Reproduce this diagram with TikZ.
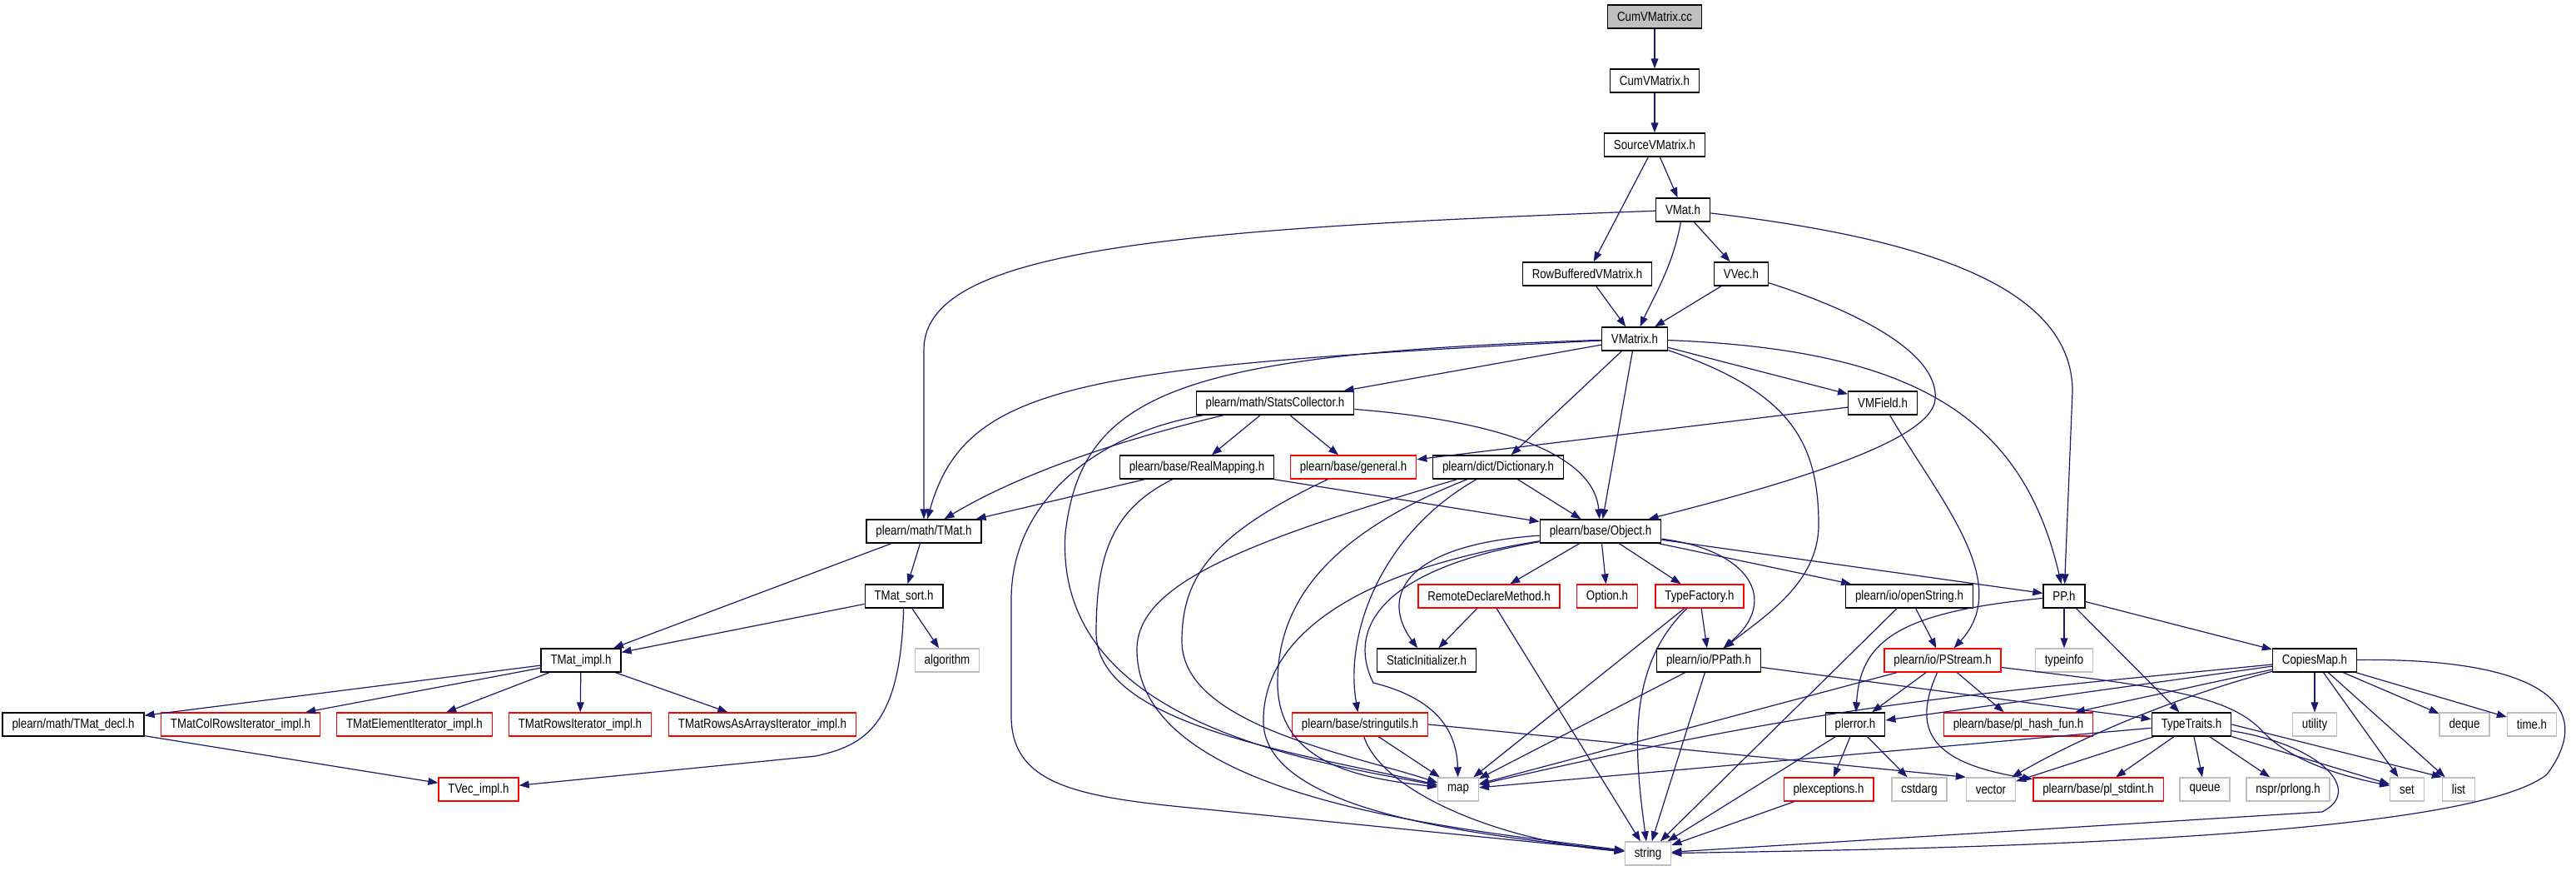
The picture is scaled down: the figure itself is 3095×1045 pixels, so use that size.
\documentclass[tikz,border=0pt]{standalone}
\usepackage{fontspec}
\setmainfont{Liberation Sans}[FakeStretch=0.84]
\usepackage{tikz}
\usetikzlibrary{arrows.meta}
\definecolor{edgeblue}{HTML}{191970}
\definecolor{grey75}{HTML}{BFBFBF}

\begin{document}
\begin{tikzpicture}[x=0.5pt,y=-0.5pt,
		>={Triangle[length=6pt,width=4.4pt]},
		hfile/.style={draw=black,line width=0.7pt,minimum height=14pt,inner xsep=5.7pt,inner ysep=0pt,font=\fontsize{7.9}{9}\selectfont},
		hmissing/.style={hfile,draw=red},
		hsys/.style={hfile,draw=grey75},
		hroot/.style={hfile,fill=grey75},
		dep/.style={->,draw=edgeblue,line width=0.6pt}]
			\useasboundingbox (0,0) rectangle (3095,1045);
			\node[hroot] (cc) at (1988,20) {CumVMatrix.cc};
			\node[hfile] (cumh) at (1988,97) {CumVMatrix.h};
			\node[hfile] (srcvm) at (1988,174) {SourceVMatrix.h};
			\node[hfile] (vmat) at (2022,252) {VMat.h};
			\node[hfile] (rowbuf) at (1907,329) {RowBufferedVMatrix.h};
			\node[hfile] (vvec) at (2092,329) {VVec.h};
			\node[hfile] (vmatrix) at (1964,407) {VMatrix.h};
			\node[hfile] (stats) at (1532,484) {plearn/math/StatsCollector.h};
			\node[hfile] (vmfield) at (2262,484) {VMField.h};
			\node[hfile] (realmap) at (1438,561) {plearn/base/RealMapping.h};
			\node[hmissing] (general) at (1626,561) {plearn/base/general.h};
			\node[hfile] (dict) at (1800,561) {plearn/dict/Dictionary.h};
			\node[hfile] (tmat) at (1110,638) {plearn/math/TMat.h};
			\node[hfile] (object) at (1923,638) {plearn/base/Object.h};
			\node[hfile] (tmatsort) at (1086,716) {TMat\_sort.h};
			\node[hmissing] (remote) at (1789,716) {RemoteDeclareMethod.h};
			\node[hmissing] (option) at (1931,716) {Option.h};
			\node[hmissing] (typefac) at (2042,716) {TypeFactory.h};
			\node[hfile] (openstr) at (2294,716) {plearn/io/openString.h};
			\node[hfile] (pp) at (2480,716) {PP.h};
			\node[hfile] (tmatimpl) at (698,793) {TMat\_impl.h};
			\node[hsys] (algo) at (1138,793) {algorithm};
			\node[hfile] (statinit) at (1714,793) {StaticInitializer.h};
			\node[hfile] (ppath) at (2053,793) {plearn/io/PPath.h};
			\node[hmissing] (pstream) at (2334,793) {plearn/io/PStream.h};
			\node[hsys] (typeinfo) at (2480,793) {typeinfo};
			\node[hfile] (copies) at (2781,793) {CopiesMap.h};
			\node[hfile] (tmatdecl) at (88,870) {plearn/math/TMat\_decl.h};
			\node[hmissing] (colrows) at (289,870) {TMatColRowsIterator\_impl.h};
			\node[hmissing] (elemit) at (498,870) {TMatElementIterator\_impl.h};
			\node[hmissing] (rowsit) at (697,870) {TMatRowsIterator\_impl.h};
			\node[hmissing] (rowsarr) at (916,870) {TMatRowsAsArraysIterator\_impl.h};
			\node[hmissing] (strutil) at (1634,870) {plearn/base/stringutils.h};
			\node[hfile] (plerror) at (2229,870) {plerror.h};
			\node[hmissing] (hashfun) at (2425,870) {plearn/base/pl\_hash\_fun.h};
			\node[hfile] (traits) at (2633,870) {TypeTraits.h};
			\node[hsys] (utility) at (2781,870) {utility};
			\node[hsys] (deque) at (2961,870) {deque};
			\node[hsys] (timeh) at (3042,870) {time.h};
			\node[hmissing] (tvec) at (575,948) {TVec\_impl.h};
			\node[hsys] (map) at (1752,948) {map};
			\node[hmissing] (plexc) at (2197,948) {plexceptions.h};
			\node[hsys] (cstdarg) at (2306,948) {cstdarg};
			\node[hsys] (vector) at (2392,948) {vector};
			\node[hmissing] (stdint) at (2521,948) {plearn/base/pl\_stdint.h};
			\node[hsys] (queue) at (2649,948) {queue};
			\node[hsys] (prlong) at (2749,948) {nspr/prlong.h};
			\node[hsys] (set) at (2892,948) {set};
			\node[hsys] (list) at (2954,948) {list};
			\node[hsys] (string) at (1980,1025) {string};
			
			\draw[dep] (cc) -- (cumh);
			\draw[dep] (cumh) -- (srcvm);
			\draw[dep] (srcvm) -- (rowbuf);
			\draw[dep] (srcvm) -- (vmat);
			\draw[dep] (vmat) .. controls (1400,275) and (1110,300) .. (1110,420) -- (tmat);
			\draw[dep] (vmat) .. controls (2010,320) and (1985,360) .. (vmatrix);
			\draw[dep] (vmat) -- (vvec);
			\draw[dep] (vmat) .. controls (2300,285) and (2490,340) .. (2490,470) -- (pp);
			\draw[dep] (rowbuf) -- (vmatrix);
			\draw[dep] (vvec) -- (vmatrix);
			\draw[dep] (vvec) .. controls (2250,380) and (2330,430) .. (2325,480) .. controls (2320,530) and (2150,580) .. (object);
			\draw[dep] (vmatrix) -- (stats);
			\draw[dep] (vmatrix) -- (vmfield);
			\draw[dep] (vmatrix) .. controls (1300,440) and (1160,460) .. (tmat);
			\draw[dep] (vmatrix) .. controls (1420,425) and (1300,470) .. (1280,640) .. controls (1265,870) and (1580,915) .. (map);
			\draw[dep] (vmatrix) -- (dict);
			\draw[dep] (vmatrix) -- (object);
			\draw[dep] (vmatrix) .. controls (2150,470) and (2185,530) .. (2185,630) .. controls (2185,700) and (2120,740) .. (ppath);
			\draw[dep] (vmatrix) .. controls (2300,420) and (2430,500) .. (pp);
			\draw[dep] (stats) .. controls (1380,520) and (1240,560) .. (tmat);
			\draw[dep] (stats) -- (realmap);
			\draw[dep] (stats) -- (general);
			\draw[dep] (stats) .. controls (1800,505) and (1915,545) .. (object);
			\draw[dep] (stats) .. controls (1320,520) and (1215,600) .. (1215,720) -- (1215,860) .. controls (1215,945) and (1300,958) .. (1450,972) -- (string);
			\draw[dep] (vmfield) -- (general);
			\draw[dep] (vmfield) .. controls (2330,600) and (2420,700) .. (pstream);
			\draw[dep] (realmap) -- (tmat);
			\draw[dep] (realmap) -- (object);
			\draw[dep] (realmap) .. controls (1340,610) and (1317,660) .. (1317,760) .. controls (1317,870) and (1560,905) .. (map);
			\draw[dep] (general) .. controls (1460,640) and (1420,690) .. (1420,770) .. controls (1420,870) and (1620,905) .. (map);
			\draw[dep] (dict) -- (object);
			\draw[dep] (dict) .. controls (1660,640) and (1615,760) .. (strutil);
			\draw[dep] (dict) .. controls (1600,640) and (1535,720) .. (1535,820) .. controls (1535,920) and (1640,935) .. (map);
			\draw[dep] (dict) .. controls (1500,650) and (1366,700) .. (1366,780) .. controls (1366,960) and (1750,995) .. (string);
			\draw[dep] (object) -- (remote);
			\draw[dep] (object) -- (option);
			\draw[dep] (object) -- (typefac);
			\draw[dep] (object) -- (openstr);
			\draw[dep] (object) -- (pp);
			\draw[dep] (object) .. controls (2100,660) and (2140,720) .. (ppath);
			\draw[dep] (object) .. controls (1680,655) and (1660,720) .. (statinit);
			\draw[dep] (object) .. controls (1650,685) and (1620,760) .. (1650,820) .. controls (1710,835) and (1750,865) .. (map);
			\draw[dep] (object) .. controls (1600,690) and (1515,780) .. (1518,870) .. controls (1525,980) and (1800,1005) .. (string);
			\draw[dep] (tmat) -- (tmatimpl);
			\draw[dep] (tmat) -- (tmatsort);
			\draw[dep] (tmatsort) -- (tmatimpl);
			\draw[dep] (tmatsort) -- (algo);
			\draw[dep] (tmatsort) .. controls (1082,870) and (1040,895) .. (980,908) -- (tvec);
			\draw[dep] (tmatimpl) -- (tmatdecl);
			\draw[dep] (tmatimpl) -- (colrows);
			\draw[dep] (tmatimpl) -- (elemit);
			\draw[dep] (tmatimpl) -- (rowsit);
			\draw[dep] (tmatimpl) -- (rowsarr);
			\draw[dep] (tmatdecl) -- (tvec);
			\draw[dep] (remote) -- (statinit);
			\draw[dep] (remote) -- (string);
			\draw[dep] (typefac) -- (map);
			\draw[dep] (typefac) .. controls (1955,800) and (1963,900) .. (string);
			\draw[dep] (typefac) -- (ppath);
			\draw[dep] (openstr) -- (pstream);
			\draw[dep] (openstr) -- (string);
			\draw[dep] (pp) -- (typeinfo);
			\draw[dep] (pp) -- (copies);
			\draw[dep] (pp) -- (traits);
			\draw[dep] (pp) .. controls (2280,735) and (2235,770) .. (plerror);
			\draw[dep] (ppath) -- (map);
			\draw[dep] (ppath) -- (string);
			\draw[dep] (ppath) -- (traits);
			\draw[dep] (pstream) -- (plerror);
			\draw[dep] (pstream) -- (hashfun);
			\draw[dep] (pstream) .. controls (2300,870) and (2310,915) .. (stdint);
			\draw[dep] (pstream) -- (map);
			\draw[dep] (pstream) .. controls (2600,825) and (2680,835) .. (2720,880) .. controls (2760,920) and (2830,935) .. (set);
			\draw[dep] (copies) -- (plerror);
			\draw[dep] (copies) -- (hashfun);
			\draw[dep] (copies) .. controls (2350,835) and (2200,845) .. (map);
			\draw[dep] (copies) .. controls (2620,835) and (2500,885) .. (vector);
			\draw[dep] (copies) -- (utility);
			\draw[dep] (copies) -- (set);
			\draw[dep] (copies) -- (list);
			\draw[dep] (copies) -- (deque);
			\draw[dep] (copies) -- (timeh);
			\draw[dep] (copies) .. controls (3060,790) and (3120,850) .. (3060,930) .. controls (2960,1010) and (2300,1020) .. (string);
			\draw[dep] (traits) -- (map);
			\draw[dep] (traits) -- (vector);
			\draw[dep] (traits) -- (stdint);
			\draw[dep] (traits) -- (queue);
			\draw[dep] (traits) -- (prlong);
			\draw[dep] (traits) -- (set);
			\draw[dep] (traits.east) -- (list.north west);
			\draw[dep] (traits) .. controls (2790,895) and (2840,950) .. (2790,975) -- (string);
			\draw[dep] (plerror) -- (plexc);
			\draw[dep] (plerror) -- (cstdarg);
			\draw[dep] (plerror) -- (string);
			\draw[dep] (plexc) -- (string);
			\draw[dep] (strutil) -- (map);
			\draw[dep] (strutil) .. controls (1660,950) and (1800,1010) .. (string);
			\draw[dep] (strutil.east) -- (vector.north west);
		\end{tikzpicture}
\end{document}
